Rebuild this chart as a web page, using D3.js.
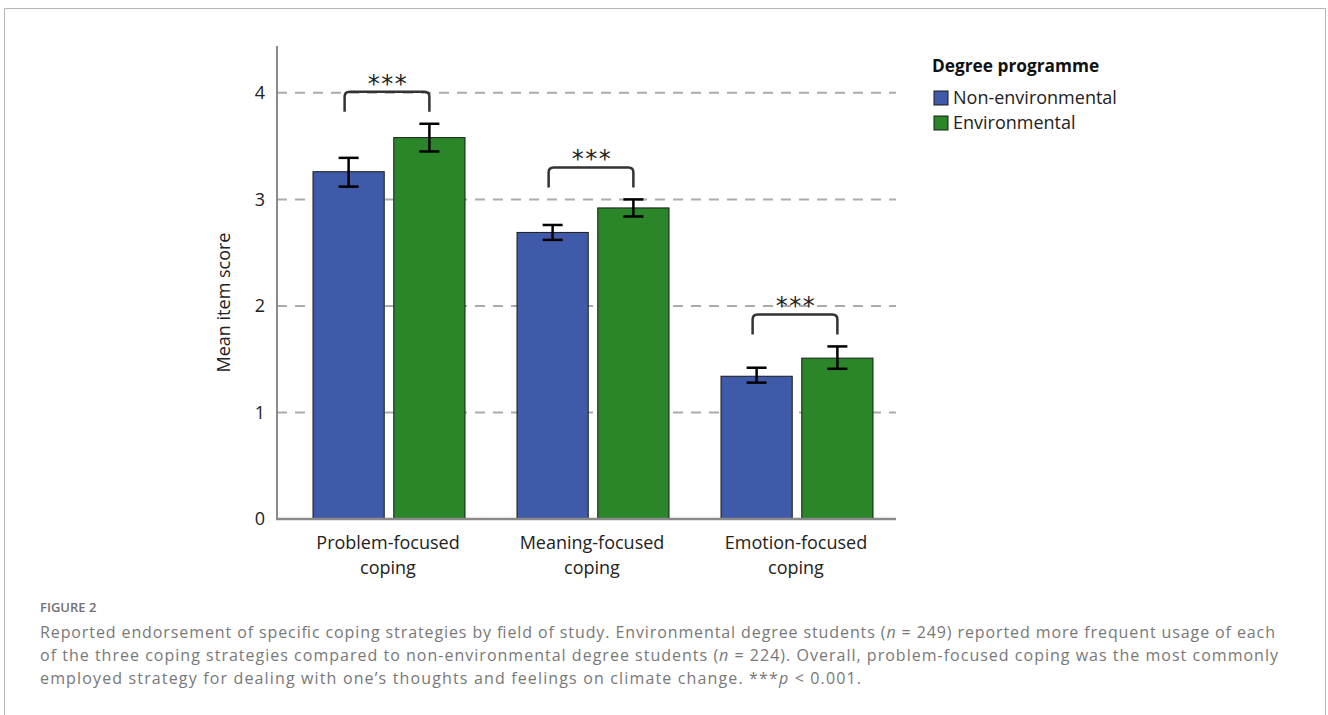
<!DOCTYPE html>
<html>
<head>
<meta charset="utf-8">
<script src="https://cdn.jsdelivr.net/npm/d3@7"></script>
<style>
  html, body { margin: 0; padding: 0; background: #fff; }
  svg { display: block; }
</style>
</head>
<body>
<script>
// Coping strategy means by degree programme, with error bars
const categories = [["Problem-focused", "coping"], ["Meaning-focused", "coping"], ["Emotion-focused", "coping"]];
const groups = ["Non-environmental", "Environmental"];
const groupColors = ["#3f5aa8", "#2a8629"];
const nonEnvMean = [3.26, 2.69, 1.34];
const nonEnvLow = [3.12, 2.62, 1.28];
const nonEnvHigh = [3.39, 2.76, 1.42];
const envMean = [3.58, 2.92, 1.51];
const envLow = [3.45, 2.84, 1.41];
const envHigh = [3.71, 3.00, 1.62];
const yTicks = [0, 1, 2, 3, 4];
const sigLabels = ["***", "***", "***"];
const legendTitle = "Degree programme";
const yLabel = "Mean item score";
const figureLabel = "FIGURE 2";

const W = 1328, H = 715;
const svg = d3.select("body").append("svg").attr("width", W).attr("height", H);

// outer frame
svg.append("path")
  .attr("d", `M4.5,${H} V8.5 H1325.5 V${H}`)
  .attr("fill", "none").attr("stroke", "#b5b5b5").attr("stroke-width", 1);

const chartFont = "'Open Sans', 'Noto Sans', sans-serif";
const x0 = 277, x1 = 896, yBase = 519, yTop = 46;

const y = d3.scaleLinear().domain([0, 4.44]).range([yBase, yTop]);
const x = d3.scaleBand().domain(d3.range(categories.length)).range([x0 + 10, x1 + 3]).paddingInner(0).paddingOuter(0);
const xs = d3.scaleBand().domain(d3.range(groups.length)).range([26, 178]).paddingInner(0.118);

// gridlines
svg.append("g").selectAll("line").data(yTicks.filter(d => d > 0)).join("line")
  .attr("x1", x0).attr("x2", x1)
  .attr("y1", d => y(d)).attr("y2", d => y(d))
  .attr("stroke", "#ababab").attr("stroke-width", 2).attr("stroke-dasharray", "10,8");

// y axis
const yAxis = d3.axisLeft(y).tickValues(yTicks).tickSize(0).tickPadding(12).tickFormat(d3.format("d"));
const gy = svg.append("g").attr("transform", `translate(${x0},0)`).call(yAxis);
gy.select(".domain").remove();
gy.selectAll("text").attr("font-family", chartFont).attr("font-size", 18).attr("fill", "#222");
svg.append("line").attr("x1", x0).attr("x2", x0).attr("y1", yTop).attr("y2", yBase + 1)
  .attr("stroke", "#8a8a8a").attr("stroke-width", 2);

// bars
const series = [
  {mean: nonEnvMean, lo: nonEnvLow, hi: nonEnvHigh},
  {mean: envMean, lo: envLow, hi: envHigh}
];
const barData = [];
series.forEach((s, gi) => s.mean.forEach((m, ci) => barData.push({ci, gi, m, lo: s.lo[ci], hi: s.hi[ci]})));

svg.append("g").selectAll("rect").data(barData).join("rect")
  .attr("x", d => x(d.ci) + xs(d.gi))
  .attr("width", xs.bandwidth())
  .attr("y", d => y(d.m))
  .attr("height", d => y(0) - y(d.m))
  .attr("fill", d => groupColors[d.gi])
  .attr("stroke", "#1a1a1a").attr("stroke-width", 1);

// x axis baseline
svg.append("line").attr("x1", x0 - 1).attr("x2", x1).attr("y1", yBase).attr("y2", yBase)
  .attr("stroke", "#8a8a8a").attr("stroke-width", 2.5);

// error bars
const eb = svg.append("g").attr("stroke", "#000").attr("stroke-width", 2.5).attr("fill", "none");
barData.forEach(d => {
  const cx = x(d.ci) + xs(d.gi) + xs.bandwidth() / 2;
  eb.append("line").attr("x1", cx).attr("x2", cx).attr("y1", y(d.hi)).attr("y2", y(d.lo));
  eb.append("line").attr("x1", cx - 10).attr("x2", cx + 10).attr("y1", y(d.hi)).attr("y2", y(d.hi));
  eb.append("line").attr("x1", cx - 10).attr("x2", cx + 10).attr("y1", y(d.lo)).attr("y2", y(d.lo));
});

// significance brackets
categories.forEach((c, ci) => {
  const topHi = Math.max(nonEnvHigh[ci], envHigh[ci]);
  const yb = y(topHi) - 32;
  const yEnd = y(topHi) - 12;
  const xa = x(ci) + xs(0) + xs.bandwidth() / 2 - 4;
  const xb = x(ci) + xs(1) + xs.bandwidth() / 2;
  const r = 5;
  svg.append("path")
    .attr("d", `M${xa},${yEnd} V${yb + r} Q${xa},${yb} ${xa + r},${yb} H${xb - r} Q${xb},${yb} ${xb},${yb + r} V${yEnd}`)
    .attr("fill", "none").attr("stroke", "#333").attr("stroke-width", 2.5);
  svg.append("text").attr("x", (xa + xb) / 2 + 1).attr("y", yb)
    .attr("text-anchor", "middle").attr("font-family", "'DejaVu Sans', sans-serif")
    .attr("font-size", 24).attr("letter-spacing", 1.5).attr("fill", "#222").text(sigLabels[ci]);
});

// category labels
categories.forEach((lines, ci) => {
  const t = svg.append("text").attr("text-anchor", "middle")
    .attr("font-family", chartFont).attr("font-size", 18).attr("fill", "#222");
  lines.forEach((ln, li) => t.append("tspan")
    .attr("x", x(ci) + x.bandwidth() / 2 - 1).attr("y", 549 + li * 25).text(ln));
});

// y axis title
svg.append("text")
  .attr("transform", `translate(230,${(yTop + yBase) / 2 + 20}) rotate(-90)`)
  .attr("text-anchor", "middle").attr("font-family", chartFont)
  .attr("font-size", 18).attr("fill", "#222").text(yLabel);

// legend
const lg = svg.append("g").attr("transform", "translate(932,0)");
lg.append("text").attr("x", 0).attr("y", 72).attr("font-family", chartFont)
  .attr("font-weight", "bold").attr("font-size", 17.3).attr("fill", "#111").text(legendTitle);
groups.forEach((g, i) => {
  lg.append("rect").attr("x", 2).attr("y", 91 + i * 25).attr("width", 14).attr("height", 14)
    .attr("fill", groupColors[i]).attr("stroke", "#1a1a1a").attr("stroke-width", 1);
  lg.append("text").attr("x", 21).attr("y", 104 + i * 25).attr("font-family", chartFont)
    .attr("font-size", 18).attr("fill", "#222").text(g);
});

// caption
const capFont = "'Open Sans', Lato, sans-serif";
svg.append("text").attr("x", 40).attr("y", 612).attr("font-family", capFont)
  .attr("font-size", 13).attr("font-weight", 600).attr("fill", "#707070").text(figureLabel);

const capLines = [
  [["Reported endorsement of specific coping strategies by field of study. Environmental degree students (", 0], ["n", 1], [" = 249) reported more frequent usage of each", 0]],
  [["of the three coping strategies compared to non-environmental degree students (", 0], ["n", 1], [" = 224). Overall, problem-focused coping was the most commonly", 0]],
  [["employed strategy for dealing with one\u2019s thoughts and feelings on climate change. ***", 0], ["p", 1], [" < 0.001.", 0]]
];
const capWidths = [1235, 1238, 821];
capLines.forEach((parts, li) => {
  const t = svg.append("text").attr("x", 40).attr("y", 638 + li * 23)
    .attr("font-family", capFont).attr("font-size", 16).attr("fill", "#787878")
    .attr("textLength", capWidths[li]).attr("lengthAdjust", "spacing");
  parts.forEach(([s, it]) => t.append("tspan").attr("font-style", it ? "italic" : "normal").text(s));
});
</script>
</body>
</html>
